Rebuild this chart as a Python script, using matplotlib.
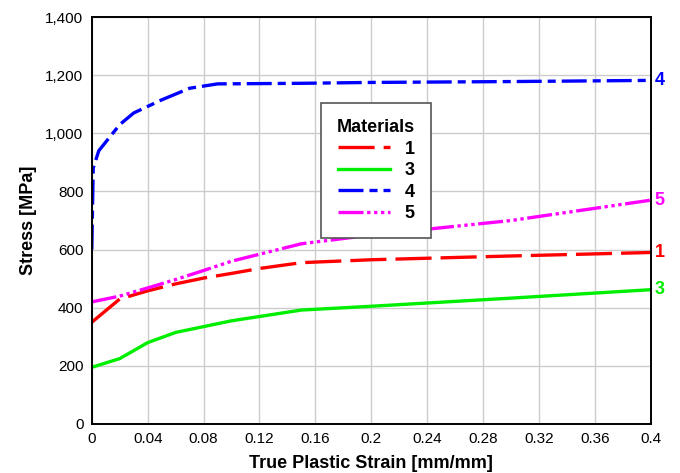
import matplotlib
matplotlib.use("Agg")
import matplotlib.pyplot as plt
from matplotlib.ticker import FuncFormatter

plt.rcParams["font.family"] = ["Liberation Sans", "DejaVu Sans"]
plt.rcParams["lines.scale_dashes"] = False

# 各材料的真塑性应变-应力曲线
strain_1 = [0, 0.02, 0.04, 0.06, 0.08, 0.10, 0.12, 0.15, 0.20, 0.30, 0.40]
stress_1 = [350, 430, 458, 482, 502, 518, 535, 555, 565, 578, 590]

strain_3 = [0, 0.02, 0.04, 0.06, 0.10, 0.15, 0.20, 0.30, 0.40]
stress_3 = [195, 225, 280, 315, 355, 392, 405, 433, 462]

strain_4 = [0, 0.001, 0.005, 0.02, 0.03, 0.05, 0.07, 0.09, 0.15, 0.20, 0.30, 0.40]
stress_4 = [600, 880, 940, 1030, 1070, 1115, 1155, 1170, 1172, 1175, 1178, 1182]

strain_5 = [0, 0.02, 0.04, 0.06, 0.08, 0.10, 0.15, 0.20, 0.25, 0.30, 0.35, 0.40]
stress_5 = [420, 440, 468, 497, 528, 560, 620, 650, 675, 700, 735, 770]

labels = ["1", "3", "4", "5"]
colors = ["#ff0000", "#00ee00", "#0000ff", "#ff00ff"]
# 线型（单位 pt）
dashes = [(26, 6.5), (), (18, 4.3, 5.8, 4.3), (18, 2.6, 2.4, 2.6, 2.4, 2.6, 2.4, 2.6)]

xticks = [0, 0.04, 0.08, 0.12, 0.16, 0.2, 0.24, 0.28, 0.32, 0.36, 0.4]
yticks = [0, 200, 400, 600, 800, 1000, 1200, 1400]

fig = plt.figure(figsize=(6.8, 4.73), dpi=100)
ax = fig.add_axes([0.135, 0.1036, 0.822, 0.8604])

series = [(strain_1, stress_1), (strain_3, stress_3), (strain_4, stress_4), (strain_5, stress_5)]
for (x, y), lab, c, d in zip(series, labels, colors, dashes):
    line, = ax.plot(x, y, color=c, lw=2.4, label=lab)
    if d:
        line.set_dashes(d)
    ax.annotate(lab, xy=(x[-1], y[-1]), xytext=(3, 0), textcoords="offset points",
                color=c, fontsize=13, fontweight="bold", va="center", ha="left",
                annotation_clip=False)

ax.set_xlim(0, 0.4)
ax.set_ylim(0, 1400)
ax.set_xticks(xticks)
ax.set_yticks(yticks)
ax.xaxis.set_major_formatter(FuncFormatter(lambda v, p: f"{v:g}"))
ax.yaxis.set_major_formatter(FuncFormatter(lambda v, p: f"{v:,.0f}"))
ax.tick_params(length=0, labelsize=11, pad=6)
ax.grid(True, color="#cccccc", lw=1)
ax.set_axisbelow(True)
for s in ax.spines.values():
    s.set_color("black")
    s.set_linewidth(1.4)

ax.set_xlabel("True Plastic Strain [mm/mm]", fontsize=13, fontweight="bold", labelpad=6)
ax.set_ylabel("Stress [MPa]", fontsize=13, fontweight="bold", labelpad=6)

leg = ax.legend(title="Materials", loc="upper left", bbox_to_anchor=(0.4095, 0.789),
                prop={"weight": "bold", "size": 13}, fancybox=False, framealpha=1,
                edgecolor="#555555", handlelength=2.9, handletextpad=0.8,
                labelspacing=0.25, borderpad=0.9, borderaxespad=0)
leg.get_title().set_fontweight("bold")
leg.get_title().set_fontsize(13)
leg.get_frame().set_linewidth(1.2)

plt.savefig("out.png", dpi=100)
